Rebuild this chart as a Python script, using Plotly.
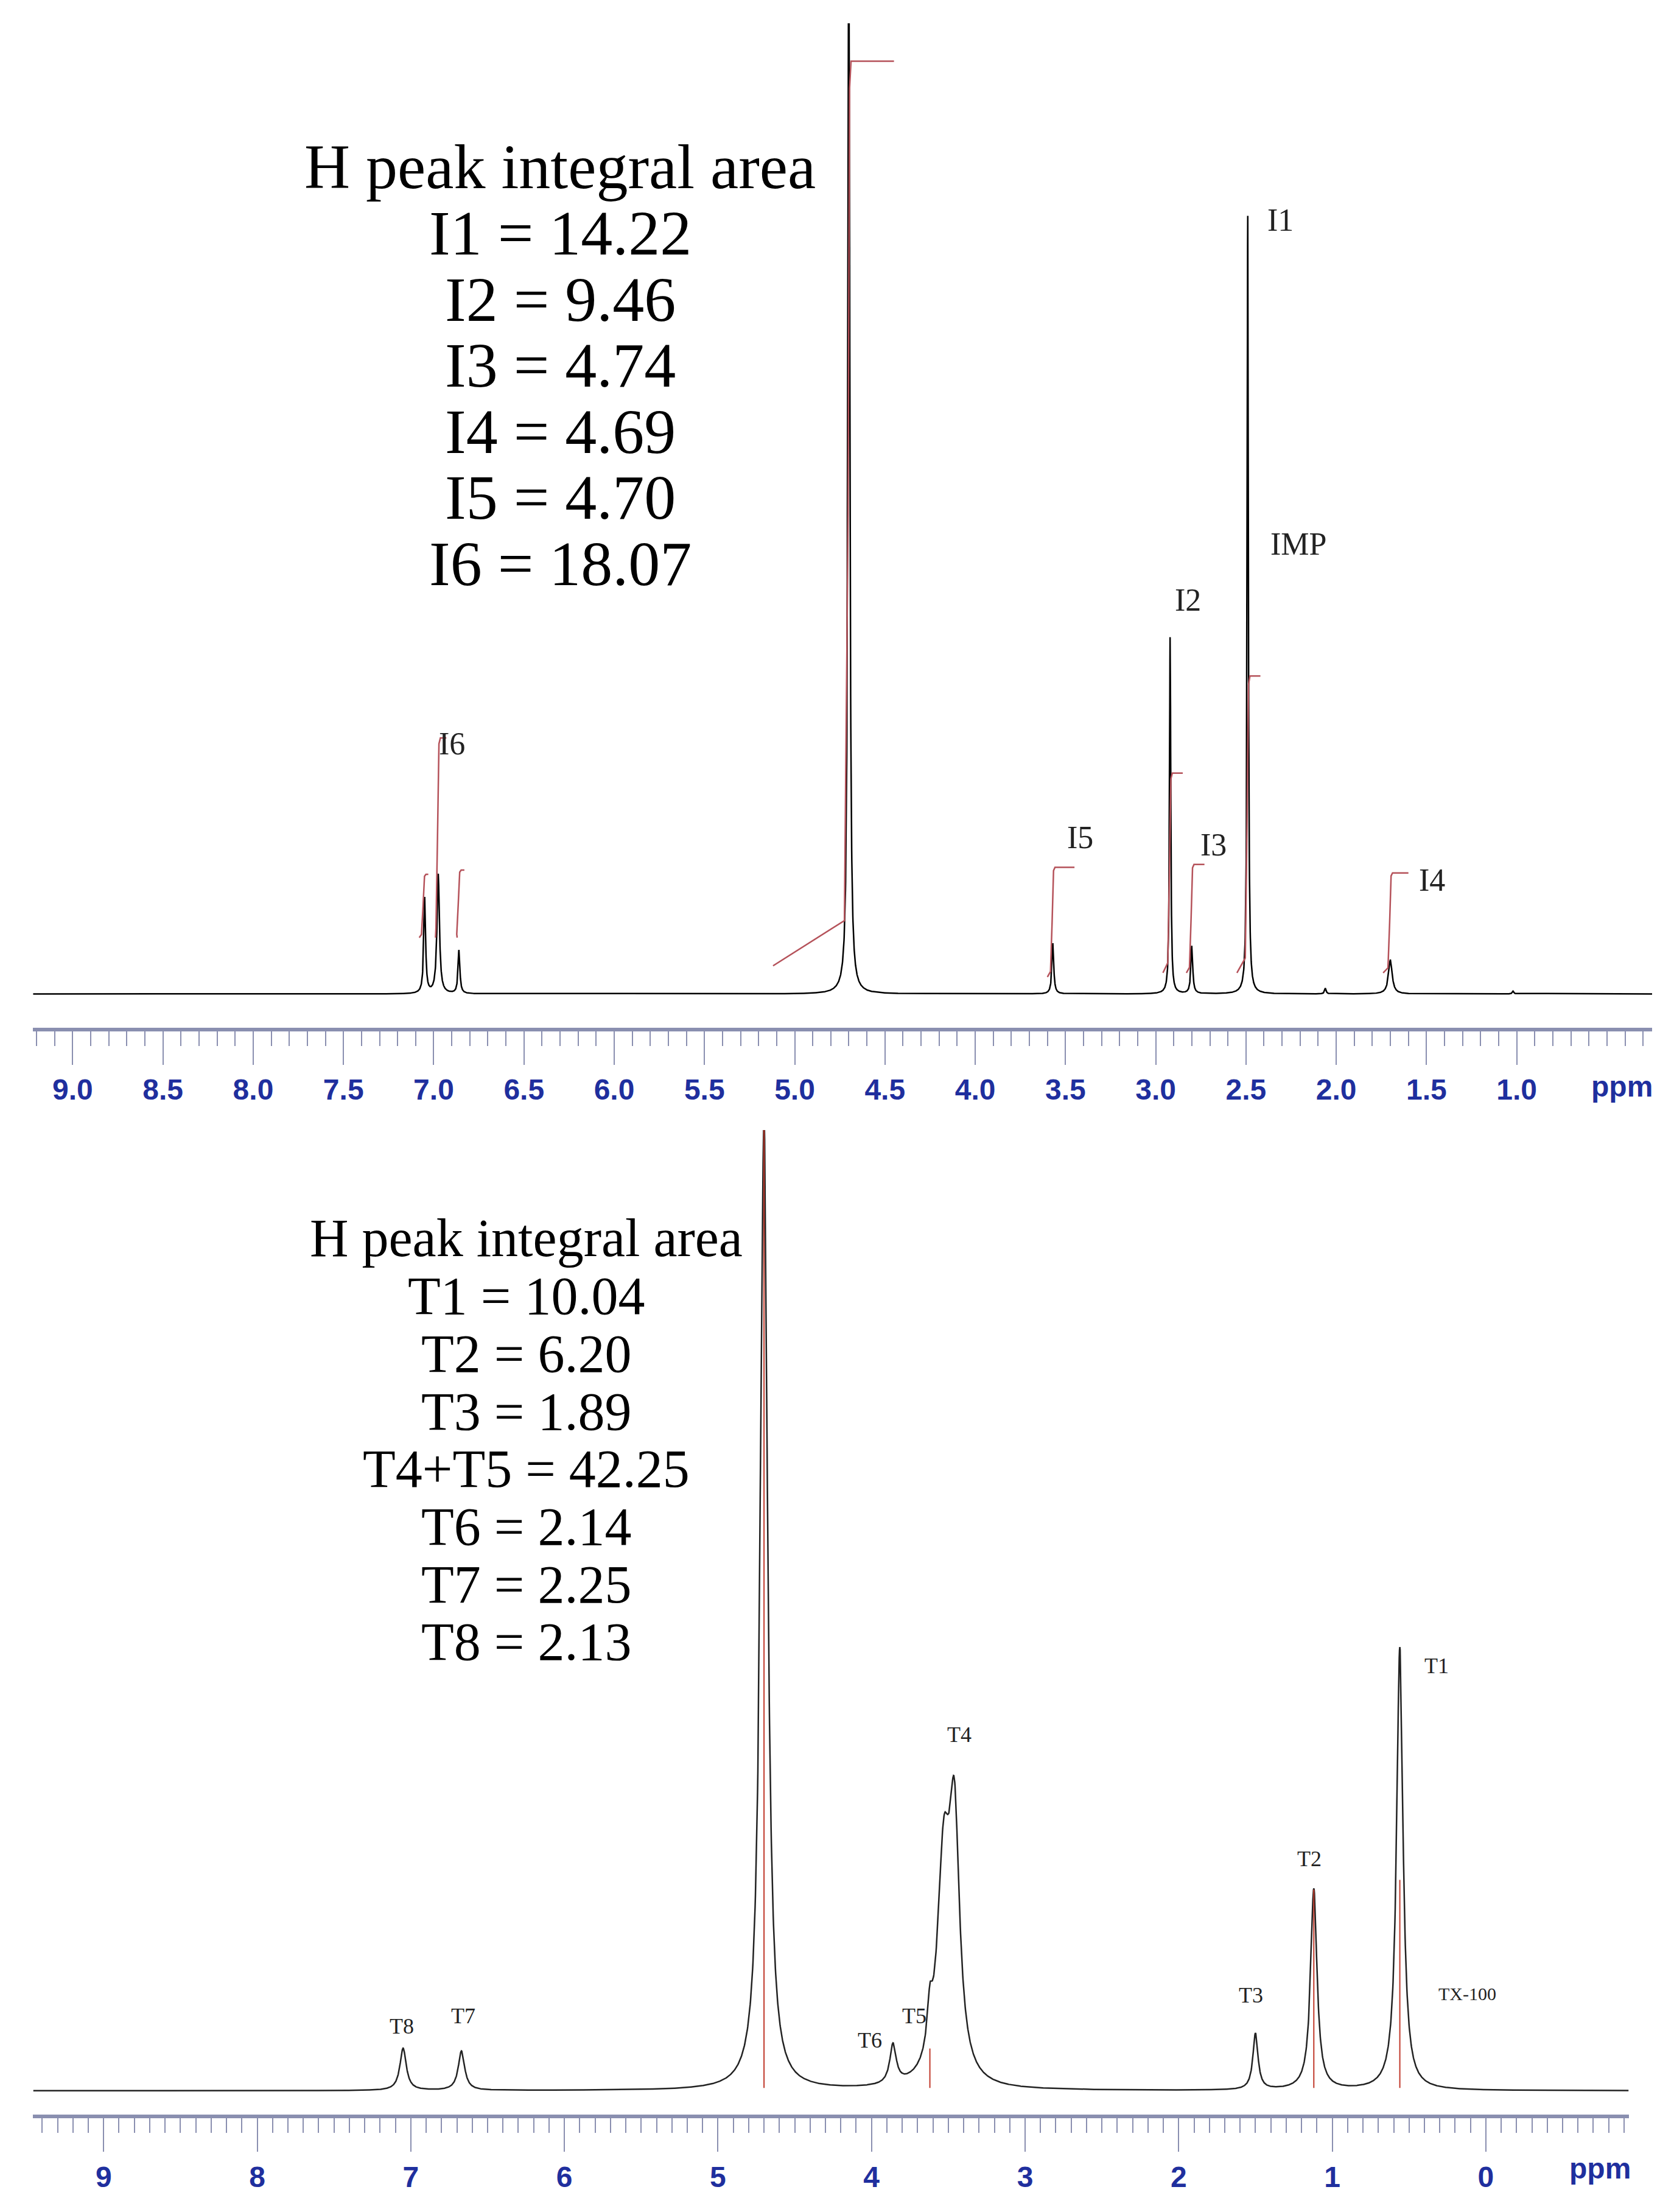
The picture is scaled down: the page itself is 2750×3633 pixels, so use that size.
import numpy as np
import plotly.graph_objects as go

# ---------------- data (heights in arbitrary intensity units) ----------------
top_peak_ppm    = [7.05, 6.975, 6.86, 4.70, 3.57, 2.92, 2.80, 2.49, 2.06, 1.70, 1.02]
top_peak_height = [68, 85, 31, 800, 36, 256, 34, 553, 4, 24, 2]
top_peak_width  = [0.006, 0.008, 0.006, 0.006, 0.006, 0.004, 0.006, 0.004, 0.005, 0.012, 0.005]

bot_peak_ppm    = [7.05, 6.67, 4.70, 3.86, 3.62, 3.53, 3.46, 1.50, 1.12, 0.56]
bot_peak_height = [30, 28, 690, 28, 30, 150, 170, 40, 143, 315]
bot_peak_width  = [0.025, 0.025, 0.028, 0.025, 0.02, 0.05, 0.04, 0.02, 0.025, 0.025]

# integral curves (start ppm, rise ppm, end ppm, low level, high level)
int_start = [7.08, 6.99, 6.87, 5.12, 3.60, 2.96, 2.83, 2.55, 1.74]
int_rise  = [7.055, 6.975, 6.86, 4.70, 3.57, 2.92, 2.80, 2.49, 1.70]
int_end   = [7.03, 6.93, 6.83, 4.45, 3.45, 2.85, 2.73, 2.42, 1.60]
int_low   = [40, 40, 40, 20, 12, 15, 15, 15, 15]
int_high  = [85, 182, 88, 663, 90, 157, 92, 226, 86]

top_labels   = ["I1", "I2", "I3", "I4", "I5", "I6", "IMP"]
top_label_x  = [2.31, 2.82, 2.68, 1.47, 3.42, 6.90, 2.21]
top_label_y  = [550, 280, 106, 81, 111, 178, 320]

bot_labels   = ["T1", "T2", "T3", "TX-100", "T4", "T5", "T6", "T7", "T8"]
bot_label_x  = [0.32, 1.15, 1.53, 0.12, 3.43, 3.72, 4.01, 6.66, 7.06]
bot_label_y  = [302, 165, 68, 69, 253, 53, 36, 53, 46]

top_text = ["H peak integral area", "I1 = 14.22", "I2 = 9.46", "I3 = 4.74",
            "I4 = 4.69", "I5 = 4.70", "I6 = 18.07"]
bot_text = ["H peak integral area", "T1 = 10.04", "T2 = 6.20", "T3 = 1.89",
            "T4+T5 = 42.25", "T6 = 2.14", "T7 = 2.25", "T8 = 2.13"]

top_ticks = [9.0, 8.5, 8.0, 7.5, 7.0, 6.5, 6.0, 5.5, 5.0, 4.5, 4.0, 3.5, 3.0, 2.5, 2.0, 1.5, 1.0]
bot_ticks = [9, 8, 7, 6, 5, 4, 3, 2, 1, 0]

# red overlay segments on bottom spectrum (ppm, height)
red_ppm = [4.70, 3.62, 1.12, 0.56]
red_h   = [690, 30, 143, 150]

# ---------------- build spectra ----------------
def spectrum(xs, ppm, h, w):
    y = np.zeros_like(xs)
    for p, a, g in zip(ppm, h, w):
        y += a * g**2 / ((xs - p)**2 + g**2)
    return y

xt = np.arange(0.25, 9.22, 0.0008)
yt = spectrum(xt, top_peak_ppm, top_peak_height, top_peak_width)
xb = np.arange(-0.93, 9.46, 0.002)
yb = spectrum(xb, bot_peak_ppm, bot_peak_height, bot_peak_width)

fig = go.Figure()
fig.add_trace(go.Scatter(x=xt, y=yt, mode="lines", line=dict(color="black", width=2.5),
                         xaxis="x", yaxis="y", showlegend=False))
# integrals
for s, r, e, lo, hi in zip(int_start, int_rise, int_end, int_low, int_high):
    xs = [s, r + 0.03 * (s - r) + 0.012, r + 0.004, r - 0.004, r - 0.012, e]
    ys = [lo, lo + 0.05 * (hi - lo), lo + 0.5 * (hi - lo), lo + 0.97 * (hi - lo), hi, hi]
    fig.add_trace(go.Scatter(x=xs, y=ys, mode="lines", line=dict(color="#b5525a", width=2.5),
                             xaxis="x", yaxis="y", showlegend=False))

fig.add_trace(go.Scatter(x=xb, y=yb, mode="lines", line=dict(color="#222222", width=2.5),
                         xaxis="x2", yaxis="y2", showlegend=False))
for p, h in zip(red_ppm, red_h):
    fig.add_trace(go.Scatter(x=[p, p], y=[2, h], mode="lines", line=dict(color="#c0392b", width=2),
                             xaxis="x2", yaxis="y2", showlegend=False))

ann = []
for t, x, y in zip(top_labels, top_label_x, top_label_y):
    ann.append(dict(x=x, y=y, xref="x", yref="y", text=t, showarrow=False,
                    font=dict(family="Liberation Serif", size=52, color="#222")))
for t, x, y in zip(bot_labels, bot_label_x, bot_label_y):
    ann.append(dict(x=x, y=y, xref="x2", yref="y2", text=t, showarrow=False,
                    font=dict(family="Liberation Serif", size=36 if t != "TX-100" else 30, color="#222")))
for i, t in enumerate(top_text):
    ann.append(dict(x=6.30, y=588 - i * 47, xref="x", yref="y", text=t, showarrow=False,
                    font=dict(family="Liberation Serif", size=104, color="black")))
for i, t in enumerate(bot_text):
    ann.append(dict(x=6.25, y=606 - i * 41, xref="x2", yref="y2", text=t, showarrow=False,
                    font=dict(family="Liberation Serif", size=88, color="black")))
ann.append(dict(x=0.985, y=0.5376, xref="paper", yref="paper", yanchor="top", xanchor="right",
                yshift=-68, text="<b>ppm</b>", showarrow=False,
                font=dict(family="Liberation Sans", size=48, color="#1f2f9e")))
ann.append(dict(x=0.972, y=0.0462, xref="paper", yref="paper", yanchor="top", xanchor="right",
                yshift=-60, text="<b>ppm</b>", showarrow=False,
                font=dict(family="Liberation Sans", size=48, color="#1f2f9e")))

axfont = dict(family="Liberation Sans", size=48, color="#1f2f9e")
fig.update_layout(
    width=2750, height=3633, margin=dict(l=0, r=0, t=0, b=0),
    paper_bgcolor="white", plot_bgcolor="white",
    xaxis=dict(domain=[0.0168, 0.984], range=[9.22, 0.25], anchor="y",
               tickvals=top_ticks, ticktext=["<b>%.1f</b>" % v for v in top_ticks],
               ticks="outside", ticklen=55, tickwidth=2, tickcolor="#8a8fb0",
               showline=True, linecolor="#8a8fb0", linewidth=6, showgrid=False, zeroline=False,
               tickfont=axfont,
               minor=dict(dtick=0.1, ticks="outside", ticklen=24, tickwidth=2, tickcolor="#8a8fb0")),
    yaxis=dict(domain=[0.5376, 0.9917], range=[-24, 690], visible=False),
    xaxis2=dict(domain=[0.0168, 0.970], range=[9.46, -0.93], anchor="y2",
                tickvals=bot_ticks, ticktext=["<b>%d</b>" % v for v in bot_ticks],
                ticks="outside", ticklen=55, tickwidth=2, tickcolor="#8a8fb0",
                showline=True, linecolor="#8a8fb0", linewidth=6, showgrid=False, zeroline=False,
                tickfont=axfont,
                minor=dict(dtick=0.1, ticks="outside", ticklen=24, tickwidth=2, tickcolor="#8a8fb0")),
    yaxis2=dict(domain=[0.0462, 0.4913], range=[-17, 683], visible=False),
    annotations=ann,
)
fig.write_html("out.html")
